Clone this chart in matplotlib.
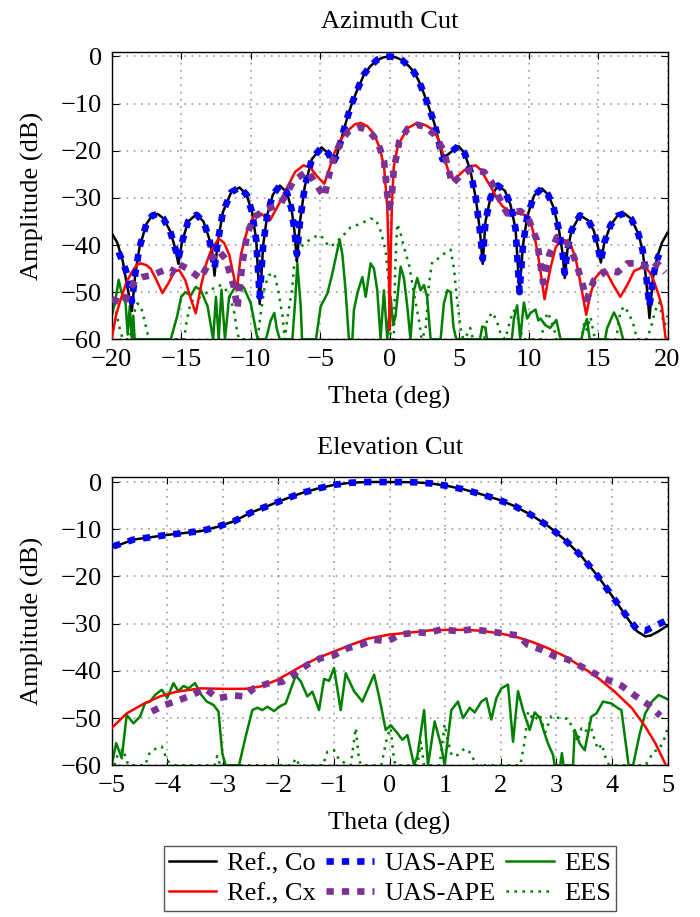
import numpy as np
import matplotlib
matplotlib.use("Agg")
import matplotlib.pyplot as plt

plt.rcParams['font.family'] = ['Liberation Serif', 'DejaVu Serif']
plt.rcParams['font.size'] = 19

# ---- azimuth cut, [theta (deg), amplitude (dB)] ----
az_ref_co = np.array([
    [-20, -37.5], [-19.6, -39.5], [-19.2, -43.5], [-18.9, -48.5], [-18.55, -54], [-18.3, -46],
    [-18.0, -40.5], [-17.5, -35.5], [-17.1, -33.8], [-16.7, -33.4], [-16.3, -34.3], [-15.8, -37],
    [-15.45, -40.5], [-15.2, -44], [-14.95, -39.5], [-14.5, -35], [-13.9, -33.5], [-13.4, -35],
    [-13.0, -38.5], [-12.75, -42], [-12.6, -46.5], [-12.4, -40], [-12.0, -33], [-11.4, -28.8],
    [-10.8, -27.8], [-10.3, -29.3], [-9.9, -33], [-9.6, -39], [-9.35, -52.5], [-9.1, -40],
    [-8.8, -33.5], [-8.4, -29.3], [-7.9, -27.4], [-7.4, -28.8], [-7.05, -32.5], [-6.85, -37],
    [-6.67, -43.5], [-6.45, -35], [-6.1, -27.5], [-5.6, -21.8], [-4.9, -19.3], [-4.4, -20.6],
    [-4.1, -22.5], [-3.8, -21.0], [-3.5, -17.8], [-3.1, -13.5], [-2.8, -10.7], [-2.4, -7.6],
    [-1.85, -3.9], [-1.4, -2.1], [-0.9, -0.8], [-0.45, -0.2], [0, 0], [0.45, -0.2], [0.9, -0.8],
    [1.4, -2.1], [1.75, -3.3], [2.1, -5.2], [2.47, -7.9], [2.85, -11.0], [3.2, -14], [3.5, -17.5],
    [3.8, -21.5], [4.2, -20.8], [4.95, -19], [5.4, -20.5], [5.83, -24.5], [6.2, -30], [6.5, -37],
    [6.7, -44], [6.9, -35], [7.27, -29.8], [7.8, -27.4], [8.3, -28.5], [8.7, -31.5], [9.06, -36.5],
    [9.35, -50], [9.6, -40], [9.9, -34], [10.4, -29.5], [10.95, -28], [11.4, -29.3], [11.8, -32],
    [12.2, -37], [12.45, -41.8], [12.6, -47], [12.8, -41], [13.1, -36.9], [13.7, -33.7],
    [14.3, -34.8], [14.7, -37], [15.0, -40.5], [15.2, -43.7], [15.45, -39.5], [15.9, -35.8],
    [16.4, -33.8], [16.9, -33.3], [17.4, -34.5], [17.9, -37.6], [18.2, -41], [18.45, -47],
    [18.7, -55.5], [18.95, -47], [19.26, -42.5], [19.6, -39.5], [20, -37.4]])

az_uas_co = np.array([
    [-19.5, -41.5], [-19.0, -45.2], [-18.75, -47.8], [-18.55, -52], [-18.3, -46],
    [-18.0, -40.5], [-17.5, -35.5], [-17.1, -33.8], [-16.7, -33.4], [-16.3, -34.3], [-15.8, -37],
    [-15.45, -40.5], [-15.2, -43], [-14.95, -39.5], [-14.5, -35], [-13.9, -33.6], [-13.4, -35],
    [-13.0, -38.5], [-12.75, -42], [-12.6, -45], [-12.4, -40], [-12.0, -33], [-11.4, -28.8],
    [-10.8, -27.8], [-10.3, -29.3], [-9.9, -33], [-9.6, -39], [-9.35, -51], [-9.1, -40],
    [-8.8, -33.5], [-8.4, -29.3], [-7.9, -27.4], [-7.4, -28.8], [-7.05, -32.5], [-6.85, -37],
    [-6.67, -42], [-6.45, -35], [-6.1, -27.5], [-5.6, -21.8], [-4.9, -19.3], [-4.4, -20.6],
    [-4.1, -22.7], [-3.8, -21.0], [-3.5, -17.8], [-3.1, -13.5], [-2.8, -10.7], [-2.4, -7.6],
    [-1.85, -3.8], [-1.4, -2.1], [-0.9, -0.7], [-0.45, -0.2], [0, 0], [0.45, -0.2], [0.9, -0.8],
    [1.4, -2.1], [1.75, -3.3], [2.1, -5.2], [2.47, -7.9], [2.85, -11.0], [3.2, -14], [3.5, -17.5],
    [3.8, -21.8], [4.2, -20.8], [4.95, -19], [5.4, -20.5], [5.83, -24.5], [6.2, -30], [6.5, -37],
    [6.7, -43], [6.9, -35], [7.27, -29.8], [7.8, -27.4], [8.3, -28.5], [8.7, -31.5], [9.06, -36.5],
    [9.35, -50], [9.6, -40], [9.9, -34], [10.4, -29.5], [10.95, -28], [11.4, -29.3], [11.8, -32],
    [12.2, -37], [12.45, -41.8], [12.6, -46], [12.8, -41], [13.1, -36.9], [13.7, -33.7],
    [14.3, -34.8], [14.7, -37], [15.0, -40.5], [15.2, -43.5], [15.45, -39.5], [15.9, -35.8],
    [16.4, -33.8], [16.9, -33.3], [17.4, -34.5], [17.9, -37.6], [18.2, -41], [18.45, -46],
    [18.7, -53], [18.95, -47], [19.2, -43.5], [19.4, -42]])

az_ref_cx = np.array([
    [-20, -60], [-19.7, -55], [-19.35, -51.5], [-18.95, -48], [-18.6, -46], [-18.2, -44.2],
    [-17.9, -43.9], [-17.5, -44.3], [-17.2, -45], [-16.8, -47.3], [-16.35, -50.2], [-15.9, -48],
    [-15.5, -45.7], [-15.15, -45.3], [-14.7, -47.5], [-14.3, -51.5], [-13.95, -54.5], [-13.6, -49],
    [-13.2, -44], [-12.9, -41.5], [-12.3, -38.6], [-11.9, -39.6], [-11.55, -42], [-11.3, -45.5],
    [-11.0, -49.6], [-10.7, -42], [-10.25, -36.9], [-9.8, -34], [-9.3, -33.3], [-8.6, -34.7],
    [-8.0, -31.5], [-7.36, -27.7], [-6.8, -24.5], [-6.2, -23.1], [-5.7, -23.6], [-5.2, -25.5],
    [-4.7, -27], [-4.3, -23.5], [-4.0, -20.6], [-3.5, -17.5], [-3.0, -15.7], [-2.5, -14.4],
    [-2.08, -14.1], [-1.6, -14.8], [-1.13, -16.4], [-0.7, -19.5], [-0.4, -23.4], [-0.17, -31.9],
    [-0.07, -42], [0, -58], [0.08, -42], [0.17, -31], [0.3, -23.4], [0.55, -19.5], [0.8, -17.8],
    [1.3, -15.2], [2.0, -14.1], [2.6, -14.6], [3.2, -15.7], [3.6, -18.2], [3.9, -21.3],
    [4.25, -24.5], [4.6, -26.3], [4.95, -25.3], [5.35, -24.2], [5.8, -23.3], [6.2, -23.1],
    [6.6, -24.2], [7.0, -26.3], [7.4, -28.3], [7.75, -30.2], [8.1, -31.7], [8.47, -32.6],
    [9.2, -33.3], [9.9, -33.7], [10.2, -35.8], [10.45, -38.5], [10.7, -42.5], [10.95, -47.5],
    [11.15, -51.5], [11.4, -47.5], [11.6, -44.6], [11.95, -40.5], [12.4, -38.8], [12.7, -39.1],
    [13.0, -39.6], [13.4, -43], [13.7, -47.5], [14.15, -54.8], [14.45, -50.5], [14.8, -47],
    [15.3, -45.3], [15.7, -46.3], [16.1, -48.5], [16.6, -51], [17.1, -48.5], [17.6, -45.5],
    [18.3, -44.6], [18.7, -45.7], [19.0, -47.5], [19.35, -50.5], [19.6, -53.1], [19.85, -59.5],
    [19.9, -60]])

az_uas_cx = np.array([
    [-20, -51.5], [-19.5, -52], [-19.1, -52.4], [-18.7, -49.5], [-18.3, -47.5], [-17.8, -46.8],
    [-17.1, -46.4], [-16.2, -45.3], [-15.7, -46], [-15.3, -43.9], [-14.55, -45], [-14.1, -46],
    [-13.6, -47.1], [-12.9, -43.2], [-12.3, -41.2], [-11.8, -43], [-11.2, -48.9], [-10.96, -53.5],
    [-10.6, -44], [-10.25, -37.6], [-9.75, -34], [-8.8, -32.4], [-7.84, -31.2], [-7.3, -28.5],
    [-6.9, -26.3], [-5.9, -24.3], [-5.2, -27.5], [-4.7, -29.8], [-4.3, -24.5], [-4.0, -21.3],
    [-3.5, -18], [-3.0, -16], [-2.2, -15], [-1.6, -15.6], [-1.13, -17], [-0.7, -19.5],
    [-0.4, -22.2], [-0.17, -29.3], [0, -32], [0.17, -29], [0.3, -24], [0.7, -18], [1.3, -15.3],
    [2.0, -14.5], [2.6, -15], [3.2, -16.5], [3.9, -20], [4.2, -23.5], [4.5, -27], [5.1, -25.3],
    [5.83, -24], [6.8, -24.5], [7.3, -26.5], [7.75, -29.1], [8.1, -31.5], [8.47, -33.3],
    [9.42, -32.8], [10.0, -34.5], [10.6, -39], [11.05, -48], [11.5, -42], [12.05, -38.3],
    [12.6, -39], [13.0, -40.4], [13.5, -44.5], [14.2, -51.5], [14.7, -47.5], [15.66, -45.3],
    [16.4, -45.8], [17.1, -43.9], [18.05, -43.9], [18.8, -45.3], [19.3, -44], [19.85, -45.8]])

az_ees_co = np.array([
    [-20, -55], [-19.75, -52], [-19.5, -47.4], [-19.3, -50], [-19.0, -52.4], [-18.85, -59],
    [-18.7, -53], [-18.55, -60], [-18.45, -55], [-18.35, -60], [-15.75, -60], [-15.3, -55.2],
    [-15.0, -51], [-14.7, -50], [-14.3, -50.7], [-13.96, -48.9], [-13.6, -49.5], [-13.1, -53],
    [-12.7, -60], [-12.5, -51], [-12.3, -60], [-12.1, -49.5], [-11.85, -60], [-11.55, -51],
    [-10.96, -48.2], [-10.5, -49], [-10.0, -52.3], [-9.5, -60], [-8.9, -60], [-8.56, -56],
    [-8.3, -54.4], [-8.1, -58], [-7.9, -60], [-7.0, -60], [-6.8, -52], [-6.64, -43.9],
    [-6.4, -53], [-6.3, -60], [-5.3, -60], [-4.96, -53], [-4.48, -50.3], [-4.12, -46],
    [-3.76, -41.1], [-3.6, -38.8], [-3.4, -42], [-3.17, -49.6], [-2.93, -60], [-2.68, -60],
    [-2.57, -53.8], [-2.3, -50], [-1.96, -46.8], [-1.72, -51], [-1.37, -43.9], [-1.13, -45],
    [-0.89, -49.6], [-0.65, -60], [-0.41, -49.6], [-0.17, -60], [0.07, -51], [0.25, -57],
    [0.43, -55], [0.79, -44.6], [1.03, -47], [1.27, -53], [1.5, -60], [1.75, -49.6],
    [1.99, -47], [2.23, -49.6], [2.47, -48.5], [2.7, -51], [2.95, -60], [3.67, -60],
    [3.9, -52.5], [4.15, -49.6], [4.39, -50], [4.6, -57.5], [4.8, -60], [6.5, -60],
    [6.67, -57.3], [6.9, -57.5], [7.0, -60], [8.8, -60], [8.94, -55.7], [9.18, -52.8],
    [9.4, -60], [9.66, -52.2], [9.9, -55.6], [10.14, -54.4], [10.5, -53.7], [10.7, -56],
    [10.86, -55.6], [11.2, -57], [11.55, -57.6], [12.0, -55.9], [12.3, -60], [13.8, -60],
    [13.98, -57.6], [14.2, -55.7], [14.4, -60], [15.5, -60], [15.66, -57.6], [16.14, -54.3],
    [16.38, -55.7], [16.6, -57.6], [16.8, -60]])

az_ees_cx = np.array([
    [-20, -55], [-19.8, -52], [-19.6, -55.5], [-19.4, -58], [-19.2, -60], [-18.7, -60],
    [-18.5, -56], [-18.3, -53.5], [-18.15, -52.4], [-17.9, -53], [-17.7, -55.3], [-17.4, -59],
    [-17.2, -60], [-14.8, -60], [-14.6, -56], [-14.3, -52], [-13.6, -51], [-12.9, -49.6],
    [-12.3, -48.5], [-11.9, -48.9], [-11.5, -51], [-11.2, -54], [-10.95, -58.8], [-10.8, -60],
    [-9.5, -60], [-9.3, -55], [-9.0, -49], [-8.7, -46.4], [-8.3, -46], [-8.0, -50],
    [-7.7, -55.2], [-7.55, -60], [-7.3, -54.5], [-7.0, -48.9], [-6.88, -44.6], [-6.4, -40.4],
    [-5.9, -39.2], [-5.45, -38.3], [-4.96, -37.9], [-4.6, -39.5], [-4.24, -40.4], [-3.9, -39.5],
    [-3.5, -38.5], [-2.8, -36.2], [-2.08, -35.5], [-1.37, -34.4], [-1.0, -34.6], [-0.65, -37],
    [-0.29, -41.1], [-0.05, -48.4], [0.07, -60], [0.3, -60], [0.4, -45], [0.55, -35.5],
    [0.79, -37.6], [1.15, -41.8], [1.39, -44], [1.75, -50.3], [2.11, -56], [2.3, -60],
    [2.59, -58], [2.83, -48.2], [3.07, -43.5], [3.43, -43], [3.9, -41.9], [4.39, -41],
    [4.63, -45], [4.87, -52], [5.1, -57.6], [5.3, -60], [5.6, -58.9], [5.8, -57.6], [6.0, -60],
    [6.8, -60], [7.03, -55.7], [7.4, -54.3], [7.7, -56], [8.0, -58.9], [8.3, -60], [8.5, -58],
    [8.7, -55.7], [8.94, -53.9], [9.2, -55], [9.4, -58], [9.6, -60], [10.9, -60], [11.1, -57],
    [11.35, -54.3], [11.6, -55.7], [11.85, -58], [12.0, -60], [13.8, -60], [14.0, -56.6],
    [14.2, -58], [14.46, -55.3], [14.7, -59], [14.9, -60], [16.3, -60], [16.6, -54.3],
    [16.86, -53], [17.1, -54], [17.5, -56.3], [17.8, -60], [18.5, -60], [18.8, -57.6],
    [19.1, -54], [19.4, -52.2], [19.6, -55], [19.8, -57], [20, -55]])

# ---- elevation cut ----
el_ref_co = np.array([
    [-5, -13.9], [-4.61, -12.2], [-4.0, -11.2], [-3.4, -10.4], [-3.1, -9.5], [-2.8, -8.3],
    [-2.5, -6.5], [-2.2, -5.1], [-1.9, -3.7], [-1.6, -2.4], [-1.3, -1.4], [-1.0, -0.6],
    [-0.7, -0.15], [-0.4, 0], [0, 0], [0.44, -0.05], [0.75, -0.3], [1.05, -0.85], [1.35, -1.6],
    [1.65, -2.6], [1.95, -3.7], [2.25, -5.1], [2.55, -7.0], [2.85, -9.3], [3.15, -12.2],
    [3.45, -15.7], [3.75, -20], [4.05, -24.9], [4.3, -29.2], [4.45, -31.6], [4.6, -32.7],
    [4.7, -32.5], [4.84, -31.6], [5, -30.4]])

el_uas_co = np.array([
    [-4.97, -13.6], [-4.61, -12.2], [-4.0, -11.2], [-3.4, -10.4], [-3.1, -9.5], [-2.8, -8.3],
    [-2.5, -6.5], [-2.2, -5.1], [-1.9, -3.7], [-1.6, -2.4], [-1.3, -1.4], [-1.0, -0.6],
    [-0.7, -0.15], [-0.4, 0], [0, 0], [0.44, -0.05], [0.75, -0.3], [1.05, -0.85], [1.35, -1.6],
    [1.65, -2.6], [1.95, -3.7], [2.25, -5.1], [2.55, -7.0], [2.85, -9.3], [3.15, -12.2],
    [3.45, -15.7], [3.75, -20], [4.05, -24.9], [4.3, -29.0], [4.45, -31.2], [4.6, -31.5],
    [4.75, -30.6], [4.95, -29.5]])

el_ref_cx = np.array([
    [-5, -52.1], [-4.73, -49], [-4.43, -47], [-4.13, -45.4], [-3.83, -44.4], [-3.4, -43.7],
    [-3.0, -43.8], [-2.6, -43.8], [-2.32, -43.3], [-2.02, -41.9], [-1.6, -39.1], [-1.3, -37.3],
    [-1.0, -35.9], [-0.7, -34.5], [-0.4, -33.2], [0, -32.3], [0.44, -31.8], [0.74, -31.4],
    [1.05, -31.3], [1.35, -31.3], [1.65, -31.5], [1.95, -32], [2.25, -32.7], [2.55, -33.8],
    [2.85, -35.2], [3.15, -36.9], [3.45, -39.1], [3.75, -41.5], [4.05, -44.4], [4.36, -47.9],
    [4.6, -51.8], [4.78, -55.3], [4.9, -58.2], [4.97, -60]])

el_uas_cx = np.array([
    [-4.28, -48.6], [-4.04, -47.2], [-3.77, -46.1], [-3.53, -45], [-3.32, -43.7], [-3.1, -45.8],
    [-2.8, -45.2], [-2.62, -45.4], [-2.44, -43.7], [-2.2, -42.7], [-1.93, -42.3], [-1.69, -40.5],
    [-1.48, -38.7], [-1.24, -37.3], [-1.0, -36.7], [-0.76, -35.2], [-0.52, -34.5], [-0.28, -33.4],
    [-0.04, -33.7], [0.2, -32.3], [0.5, -31.8], [0.68, -32], [0.93, -31.2], [1.23, -31.6],
    [1.47, -31.2], [1.77, -31.6], [2.01, -32], [2.31, -32.5], [2.49, -34.5], [2.73, -35.5],
    [2.97, -36.9], [3.21, -37.6], [3.45, -39.1], [3.69, -40.6], [3.94, -42], [4.18, -43.2],
    [4.42, -45.3], [4.66, -47.2], [4.87, -49.5]])

el_ees_co = np.array([
    [-5, -60], [-4.92, -55.3], [-4.82, -58.5], [-4.73, -49.3], [-4.61, -51.1], [-4.49, -49.7],
    [-4.4, -46.8], [-4.31, -46.5], [-4.22, -45.1], [-4.1, -44], [-4.0, -45.7], [-3.89, -42.6],
    [-3.8, -44.3], [-3.71, -43.2], [-3.62, -43.7], [-3.5, -42.6], [-3.4, -44.9], [-3.29, -46.5],
    [-3.17, -47.2], [-3.08, -48.6], [-3.01, -57.5], [-2.95, -60], [-2.71, -60], [-2.59, -53.9],
    [-2.47, -48.3], [-2.38, -47.8], [-2.29, -48.3], [-2.2, -47.6], [-2.08, -48.5], [-1.96, -47.4],
    [-1.87, -46.9], [-1.69, -41], [-1.6, -42.2], [-1.48, -45.4], [-1.39, -44.4], [-1.27, -48.3],
    [-1.18, -41.7], [-1.09, -42.1], [-1.0, -39.4], [-0.88, -48.3], [-0.79, -40.5], [-0.64, -44.3],
    [-0.49, -46.5], [-0.28, -40.8], [-0.19, -45.4], [-0.07, -52.5], [0.02, -51.5], [0.12, -52.9],
    [0.23, -54.6], [0.32, -53.6], [0.44, -60], [0.5, -58], [0.62, -48.3], [0.69, -60],
    [0.81, -50.7], [0.93, -56], [0.99, -60], [1.11, -48.3], [1.23, -46.5], [1.32, -50],
    [1.44, -47.8], [1.53, -48.8], [1.65, -46.5], [1.74, -45.8], [1.83, -50.3], [1.92, -45.8],
    [2.01, -43.7], [2.13, -42.9], [2.22, -55], [2.31, -44.3], [2.4, -48.3], [2.52, -52.5],
    [2.61, -48.8], [2.7, -49.9], [2.79, -53.3], [2.85, -55.4], [2.94, -57.8], [2.97, -60],
    [3.07, -60], [3.1, -57.4], [3.13, -60], [3.3, -60], [3.33, -52.5], [3.42, -55.4],
    [3.51, -56.8], [3.63, -49.7], [3.72, -49], [3.84, -46.5], [3.99, -46.9], [4.11, -47.9],
    [4.17, -48.3], [4.3, -60], [4.38, -60], [4.5, -53.3], [4.6, -49], [4.72, -46.5],
    [4.84, -45.1], [5, -46]])

el_ees_cx = np.array([
    [-4.95, -60], [-4.9, -58], [-4.8, -56.5], [-4.7, -60], [-4.4, -60], [-4.31, -57.1],
    [-4.19, -56.4], [-4.1, -56], [-4.0, -59], [-3.9, -60], [-3.15, -60], [-3.1, -58],
    [-3.05, -60], [-1.75, -60], [-1.69, -58.5], [-1.62, -60], [-1.2, -60], [-1.12, -57.1],
    [-1.0, -56.8], [-0.9, -59], [-0.7, -60], [-0.61, -52.1], [-0.55, -59], [-0.5, -60],
    [-0.15, -60], [-0.1, -57.1], [-0.04, -53.8], [0.02, -52.1], [0.06, -57], [0.1, -60],
    [0.5, -60], [0.56, -55], [0.62, -60], [0.9, -60], [0.99, -51.3], [1.05, -55], [1.12, -58],
    [1.23, -57.8], [1.35, -56.4], [1.47, -57.5], [1.55, -60], [2.35, -60], [2.43, -54.9],
    [2.49, -48.6], [2.6, -50.5], [2.7, -49.2], [2.8, -53], [2.91, -49.6], [3.09, -50.1],
    [3.21, -50.1], [3.3, -52.3], [3.38, -55], [3.45, -52.2], [3.52, -53], [3.6, -51],
    [3.69, -54.7], [3.75, -56.6], [3.82, -55.5], [3.87, -57.9], [3.95, -60], [4.6, -60],
    [4.66, -59], [4.75, -57], [4.84, -56.8], [4.93, -54.8], [5.0, -52.3]])

purple = '#7b3294'
green = '#008000'
dash_sq = (0, (1.1, 1.2))


def draw(ax, ref_co, uas_co, ees_co, ref_cx, uas_cx, ees_cx):
    h = []
    h += ax.plot(ref_co[:, 0], ref_co[:, 1], color='black', lw=1.8, label='Ref., Co', zorder=3)
    h += ax.plot(ref_cx[:, 0], ref_cx[:, 1], color='red', lw=1.8, label='Ref., Cx', zorder=3)
    h += ax.plot(uas_co[:, 0], uas_co[:, 1], color='blue', lw=4.8, ls=dash_sq, label='UAS-APE', zorder=4)
    h += ax.plot(uas_cx[:, 0], uas_cx[:, 1], color=purple, lw=4.8, ls=dash_sq, label='UAS-APE', zorder=4)
    h += ax.plot(ees_co[:, 0], ees_co[:, 1], color=green, lw=1.8, label='EES', zorder=2)
    h += ax.plot(ees_cx[:, 0], ees_cx[:, 1], color=green, lw=1.8, ls=(0, (1, 2.2)), label='EES', zorder=2)
    ax.set_ylim(-60, 1)
    ax.set_yticks([0, -10, -20, -30, -40, -50, -60])
    ax.grid(True, color='#aaaaaa', ls=(0, (1, 3)), lw=1.3)
    ax.set_axisbelow(True)
    ax.tick_params(direction='in', top=True, right=True, length=5, width=0.8, pad=7)
    for s in ax.spines.values():
        s.set_linewidth(1.0)
    ax.set_xlabel('Theta (deg)', labelpad=11)
    ax.set_ylabel('Amplitude (dB)', labelpad=12)
    return h


fig = plt.figure(figsize=(7, 9.17), dpi=100)
ax1 = fig.add_axes([0.1596, 0.630, 0.794, 0.3136])
ax2 = fig.add_axes([0.1596, 0.1654, 0.794, 0.3141])

draw(ax1, az_ref_co, az_uas_co, az_ees_co, az_ref_cx, az_uas_cx, az_ees_cx)
ax1.set_xlim(-20, 20)
ax1.set_xticks([-20, -15, -10, -5, 0, 5, 10, 15, 20])
ax1.set_title('Azimuth Cut', pad=17, fontsize=19)

h = draw(ax2, el_ref_co, el_uas_co, el_ees_co, el_ref_cx, el_uas_cx, el_ees_cx)
ax2.set_xlim(-5, 5)
ax2.set_xticks(range(-5, 6))
ax2.set_title('Elevation Cut', pad=17, fontsize=19)

fig.legend(handles=h, ncol=3, loc='center', bbox_to_anchor=(0.557, 0.042),
           frameon=True, fancybox=False, edgecolor='#555555', framealpha=1,
           handlelength=1.8, handletextpad=0.4, columnspacing=0.4, labelspacing=0.25,
           borderpad=0.2, fontsize=19)

fig.savefig('out.png', dpi=100)
